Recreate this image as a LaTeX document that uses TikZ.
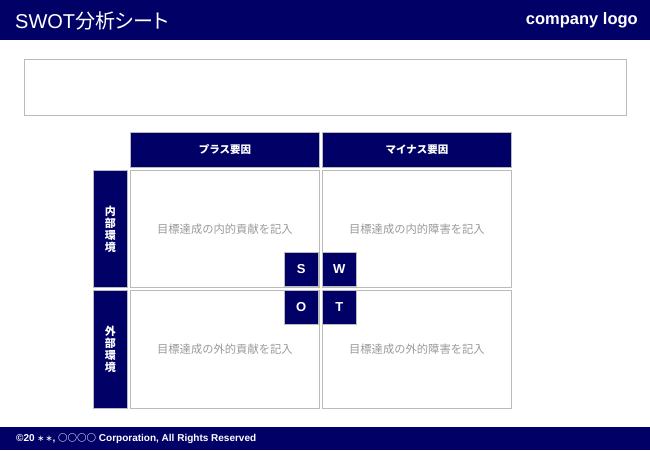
\documentclass[tikz,border=0pt]{standalone}
\usepackage{fontspec}
\setmainfont{Liberation Sans}
\newfontfamily\jp{Noto Sans CJK JP}
\newfontfamily\jpp{Noto Sans CJK JP}[RawFeature=+palt]
\usetikzlibrary{positioning}
\definecolor{navy}{HTML}{000066}
\definecolor{rule}{HTML}{BBBBBB}
\definecolor{note}{HTML}{999999}

\begin{document}
\begin{tikzpicture}[x=1pt,y=-1pt,text=white,
  bar/.style={fill=navy,draw=none,inner sep=0pt,anchor=north west},
  head/.style={fill=navy,draw=rule,line width=.8pt,inner sep=0pt,anchor=north west,
    font=\jp\bfseries\fontsize{10.5}{12}\selectfont},
  cell/.style={draw=rule,line width=.8pt,inner sep=0pt,anchor=north west,
    minimum width=189pt,minimum height=117pt,text=note,font=\jp\fontsize{11.3}{13}\selectfont},
  letter/.style={fill=navy,draw=rule,line width=.5pt,inner sep=0pt,anchor=north west,
    minimum size=34pt,font=\bfseries\fontsize{13}{14}\selectfont}]

\useasboundingbox (0,0) rectangle (650,450);

% header and footer bars
\node[bar,minimum width=650pt,minimum height=40pt] (topbar) at (0,0) {};
\node[anchor=west,inner sep=0pt,font=\fontsize{20}{22}\selectfont] (title) at (15,20.5) {SWOT{\jpp 分析シート}};
\node[anchor=east,inner sep=0pt,font=\bfseries\fontsize{16.5}{18}\selectfont] (logo) at (638,20) {company logo};
\node[bar,minimum width=650pt,minimum height=23pt] (footbar) at (0,427) {};
\node[anchor=west,inner sep=0pt,font=\bfseries\fontsize{10}{12}\selectfont] (copy) at (16,438.5)
  {©20 {\jp\bfseries\fontsize{7}{8}\selectfont ＊\,＊}, {\jp\bfseries\fontsize{9.5}{10}\selectfont ○○○○} Corporation, All Rights Reserved};

% memo box
\node[draw=rule,line width=.8pt,anchor=north west,minimum width=602pt,minimum height=56pt] (memo) at (24,59) {};

% column and row headers
\node[head,minimum width=189pt,minimum height=35pt] (plus) at (130,132) {プラス要因};
\node[head,minimum width=189pt,minimum height=35pt] (minus) at (322,132) {マイナス要因};
\node[head,minimum width=34pt,minimum height=117pt,align=center,font=\jp\bfseries\fontsize{11}{12}\selectfont]
  (inner) at (93,170) {内\\部\\環\\境};
\node[head,minimum width=34pt,minimum height=118pt,align=center,font=\jp\bfseries\fontsize{11}{12}\selectfont]
  (outer) at (93,290) {外\\部\\環\\境};

% quadrants
\node[cell] (str) at (130,170) {目標達成の内的貢献を記入};
\node[cell] (weak) at (322,170) {目標達成の内的障害を記入};
\node[cell,minimum height=118pt] (opp) at (130,290) {目標達成の外的貢献を記入};
\node[cell,minimum height=118pt] (thr) at (322,290) {目標達成の外的障害を記入};

% SWOT letters
\node[letter] (s) at (284,252) {S};
\node[letter] (w) at (322,252) {W};
\node[letter] (o) at (284,290) {O};
\node[letter] (t) at (322,290) {T};

\end{tikzpicture}
\end{document}
